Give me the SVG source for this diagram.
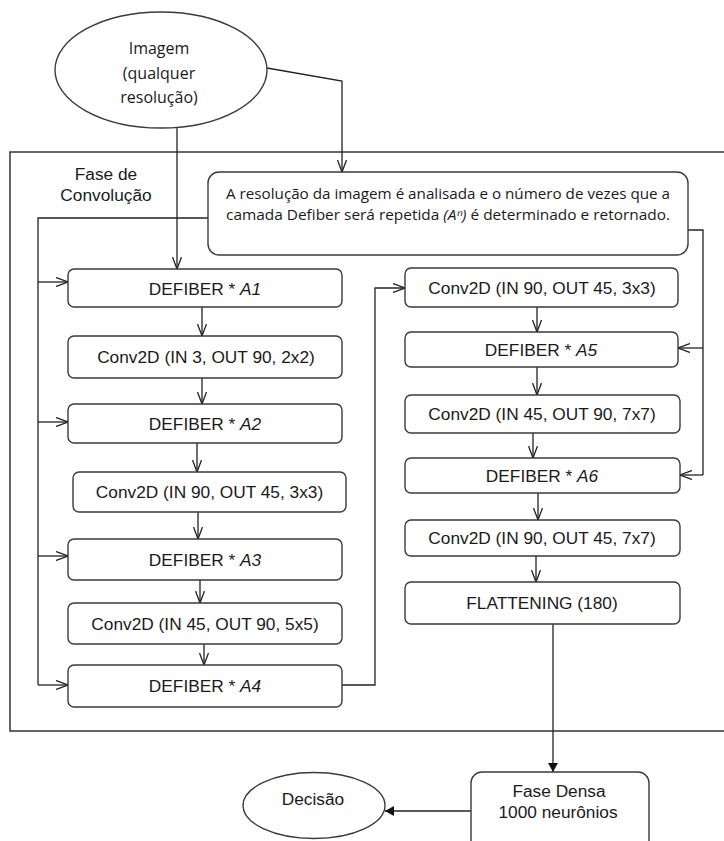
<svg xmlns="http://www.w3.org/2000/svg" width="724" height="841" viewBox="0 0 724 841">
  <style>
    .box { fill: #ffffff; stroke: #3a3a3a; stroke-width: 1.4; }
    .frame { fill: none; stroke: #333333; stroke-width: 1.5; }
    .lbl { font-family: "Liberation Sans", Arial, sans-serif; font-size: 17.3px; fill: #1a1a1a; text-anchor: middle; }
    .hum { font-family: "Open Sans", "Noto Sans", sans-serif; fill: #1a1a1a; }
    .wire { fill: none; stroke: #222222; stroke-width: 1.3; }
    .it { font-style: italic; }
  </style>
  <defs>
    <marker id="open" viewBox="0 0 12 10" refX="12" refY="5" markerWidth="12" markerHeight="10" markerUnits="userSpaceOnUse" orient="auto">
      <path d="M0,0.5 L12,5 L0,9.5" fill="none" stroke="#222222" stroke-width="1.3"/>
    </marker>
    <marker id="solid" viewBox="0 0 9 10" refX="9" refY="5" markerWidth="9" markerHeight="10" markerUnits="userSpaceOnUse" orient="auto">
      <path d="M0,0 L9,5 L0,10 Z" fill="#111111"/>
    </marker>
  </defs>

  <!-- convolution phase frame -->
  <g id="conv-phase">
    <rect class="frame" x="10" y="152" width="730" height="579"/>
    <text class="lbl" x="106" y="180">Fase de</text>
    <text class="lbl" x="106" y="201">Convolução</text>
  </g>

  <!-- connectors -->
  <g id="connectors">
    <path class="wire" d="M177,127 L177,269" marker-end="url(#open)"/>
    <path class="wire" d="M267,68 L342,81 L342,172" marker-end="url(#open)"/>
    <!-- repetition count fed back to the left column -->
    <path class="wire" d="M208,218 L38,218 L38,685"/>
    <path class="wire" d="M38,282 L68,282" marker-end="url(#open)"/>
    <path class="wire" d="M38,422 L68,422" marker-end="url(#open)"/>
    <path class="wire" d="M38,556 L68,556" marker-end="url(#open)"/>
    <path class="wire" d="M38,685 L68,685" marker-end="url(#open)"/>
    <!-- repetition count fed back to the right column -->
    <path class="wire" d="M688,230 L703,230 L703,475"/>
    <path class="wire" d="M703,348 L678,348" marker-end="url(#open)"/>
    <path class="wire" d="M703,475 L680,475" marker-end="url(#open)"/>
    <!-- left column chain -->
    <path class="wire" d="M202,307 L202,336" marker-end="url(#open)"/>
    <path class="wire" d="M202,378 L202,404" marker-end="url(#open)"/>
    <path class="wire" d="M197,443 L197,472" marker-end="url(#open)"/>
    <path class="wire" d="M198,512 L198,539" marker-end="url(#open)"/>
    <path class="wire" d="M200,580 L200,603" marker-end="url(#open)"/>
    <path class="wire" d="M204,644 L204,665" marker-end="url(#open)"/>
    <path class="wire" d="M342,685 L375,685 L375,288 L405,288" marker-end="url(#open)"/>
    <!-- right column chain -->
    <path class="wire" d="M537,307 L537,332" marker-end="url(#open)"/>
    <path class="wire" d="M537,367 L537,395" marker-end="url(#open)"/>
    <path class="wire" d="M533,433 L533,458" marker-end="url(#open)"/>
    <path class="wire" d="M538,493 L538,520" marker-end="url(#open)"/>
    <path class="wire" d="M536,556 L536,582" marker-end="url(#open)"/>
    <!-- dense phase and decision -->
    <path class="wire" d="M553,624 L553,772" marker-end="url(#solid)"/>
    <path class="wire" d="M471,811 L385,811" marker-end="url(#solid)"/>
  </g>

  <g id="input-image">
    <ellipse class="box" cx="161" cy="70" rx="106" ry="58"/>
    <text class="hum" font-size="16" x="159" y="54" text-anchor="middle">Imagem</text>
    <text class="hum" font-size="16" x="159" y="78.5" text-anchor="middle">(qualquer</text>
    <text class="hum" font-size="16" x="159" y="103" text-anchor="middle">resolução)</text>
  </g>

  <g id="resolution-analysis">
    <rect class="box" x="208" y="172" width="480" height="83" rx="11"/>
    <text class="hum" font-size="13.8" x="226" y="199" textLength="444" lengthAdjust="spacingAndGlyphs">A resolução da imagem é analisada e o número de vezes que a</text>
    <text class="hum" font-size="13.8" x="226" y="220" textLength="444" lengthAdjust="spacingAndGlyphs">camada Defiber será repetida <tspan class="it">(Aⁿ)</tspan> é determinado e retornado.</text>
  </g>

  <g id="defiber-a1">
    <rect class="box" x="68" y="269" width="274" height="38" rx="6"/>
    <text class="lbl" x="205" y="295">DEFIBER * <tspan class="it">A1</tspan></text>
  </g>
  <g id="conv-3-90">
    <rect class="box" x="68" y="336" width="274" height="42" rx="6"/>
    <text class="lbl" x="206" y="363">Conv2D (IN 3, OUT 90, 2x2)</text>
  </g>
  <g id="defiber-a2">
    <rect class="box" x="68" y="404" width="274" height="39" rx="6"/>
    <text class="lbl" x="205" y="430">DEFIBER * <tspan class="it">A2</tspan></text>
  </g>
  <g id="conv-90-45-3">
    <rect class="box" x="73" y="472" width="273" height="40" rx="6"/>
    <text class="lbl" x="209.5" y="498">Conv2D (IN 90, OUT 45, 3x3)</text>
  </g>
  <g id="defiber-a3">
    <rect class="box" x="68" y="539" width="274" height="41" rx="6"/>
    <text class="lbl" x="205" y="566">DEFIBER * <tspan class="it">A3</tspan></text>
  </g>
  <g id="conv-45-90-5">
    <rect class="box" x="68" y="603" width="274" height="41" rx="6"/>
    <text class="lbl" x="205" y="630">Conv2D (IN 45, OUT 90, 5x5)</text>
  </g>
  <g id="defiber-a4">
    <rect class="box" x="68" y="665" width="274" height="42" rx="6"/>
    <text class="lbl" x="205" y="692">DEFIBER * <tspan class="it">A4</tspan></text>
  </g>

  <g id="conv-90-45-3b">
    <rect class="box" x="405" y="268" width="273" height="39" rx="6"/>
    <text class="lbl" x="542" y="294">Conv2D (IN 90, OUT 45, 3x3)</text>
  </g>
  <g id="defiber-a5">
    <rect class="box" x="405" y="332" width="273" height="35" rx="6"/>
    <text class="lbl" x="541" y="356">DEFIBER * <tspan class="it">A5</tspan></text>
  </g>
  <g id="conv-45-90-7">
    <rect class="box" x="405" y="395" width="275" height="38" rx="6"/>
    <text class="lbl" x="542" y="420">Conv2D (IN 45, OUT 90, 7x7)</text>
  </g>
  <g id="defiber-a6">
    <rect class="box" x="405" y="458" width="275" height="35" rx="6"/>
    <text class="lbl" x="542" y="482">DEFIBER * <tspan class="it">A6</tspan></text>
  </g>
  <g id="conv-90-45-7">
    <rect class="box" x="405" y="520" width="275" height="36" rx="6"/>
    <text class="lbl" x="542" y="544">Conv2D (IN 90, OUT 45, 7x7)</text>
  </g>
  <g id="flattening">
    <rect class="box" x="405" y="582" width="275" height="42" rx="6"/>
    <text class="lbl" x="542" y="609">FLATTENING (180)</text>
  </g>

  <g id="dense-phase">
    <rect class="box" x="471" y="772" width="178" height="80" rx="11"/>
    <text class="lbl" x="559" y="797">Fase Densa</text>
    <text class="lbl" x="558" y="818">1000 neurônios</text>
  </g>

  <g id="decision">
    <ellipse class="box" cx="314" cy="805.5" rx="71" ry="33"/>
    <text class="lbl" x="313" y="805">Decisão</text>
  </g>
</svg>
